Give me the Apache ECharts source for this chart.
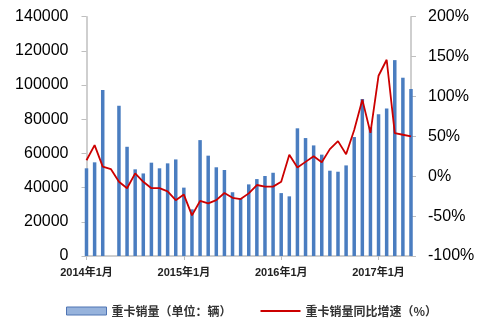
<!DOCTYPE html>
<html>
<head>
<meta charset="utf-8">
<script src="https://cdn.jsdelivr.net/npm/echarts@6/dist/echarts.min.js"></script>
<style>
html,body{margin:0;padding:0;background:#fff;}
#c{width:479px;height:323px;}
</style>
</head>
<body>
<div id="c"></div>
<script>
var categories = [
 "2014年1月","2014年2月","2014年3月","2014年4月","2014年5月","2014年6月","2014年7月","2014年8月","2014年9月","2014年10月","2014年11月","2014年12月",
 "2015年1月","2015年2月","2015年3月","2015年4月","2015年5月","2015年6月","2015年7月","2015年8月","2015年9月","2015年10月","2015年11月","2015年12月",
 "2016年1月","2016年2月","2016年3月","2016年4月","2016年5月","2016年6月","2016年7月","2016年8月","2016年9月","2016年10月","2016年11月","2016年12月",
 "2017年1月","2017年2月","2017年3月","2017年4月","2017年5月"
];
var salesName = "重卡销量（单位：辆）";
var growthName = "重卡销量同比增速（%）";
var sales = [
 51300,54800,97100,null,87900,63900,50700,48300,54600,51300,54200,56500,
 40000,27300,67800,58700,51900,50300,37300,33700,41900,45000,46800,48700,
 36800,34900,74700,69000,64700,59300,49900,49300,53000,69600,91800,75300,
 83000,86300,114600,104300,97700
];
var growth = [
 20,39,12,9,-7,-15,3.6,-7,-15,-15,-19,-30,
 -23,-49,-31,-34,-30,-21,-27,-28.6,-21.5,-11,-13,-13,
 -7,27,11,18,25,17.5,34,44,27.5,58,96,54.5,
 126,146,54,52,50
];
var leftTicks = {min:0, max:140000, interval:20000};
var rightTicks = {min:-100, max:200, interval:50};

var chart = echarts.init(document.getElementById('c'));
var font = "'Liberation Sans','Noto Sans CJK SC',sans-serif";
var axisGray = '#bfbfbf';
chart.setOption({
  animation:false,
  grid:{left:86.5, right:68, top:16.7, bottom:67},
  legend:{
    left:61, top:300, itemWidth:40, itemHeight:8, itemGap:29, symbolKeepAspect:true,
    textStyle:{fontFamily:"'Noto Sans CJK SC',sans-serif", fontSize:12, fontWeight:'bold', color:'#333'},
    data:[
      {name:salesName, icon:'rect', itemStyle:{color:'#97b3dc', borderColor:'#4f74b3', borderWidth:1}},
      {name:growthName, icon:'path://M0,0H40V2H0Z', itemStyle:{color:'#cc0000', borderWidth:0}}
    ]
  },
  xAxis:{
    type:'category', data:categories, boundaryGap:false,
    axisLine:{lineStyle:{color:axisGray, width:1.5}},
    axisTick:{show:true, length:4, lineStyle:{color:axisGray}, interval:function(i){return i%12===0;}},
    axisLabel:{interval:function(i){return i%12===0;}, fontFamily:font, fontSize:11, fontWeight:'bold', color:'#222', margin:11}
  },
  yAxis:[
    {type:'value', min:leftTicks.min, max:leftTicks.max, interval:leftTicks.interval,
     splitLine:{show:false},
     axisLine:{show:true, lineStyle:{color:axisGray, width:1.5}},
     axisTick:{show:true, length:5, lineStyle:{color:axisGray}},
     axisLabel:{fontFamily:font, fontSize:16, color:'#000', margin:18, formatter:function(v){return String(v);}}},
    {type:'value', min:rightTicks.min, max:rightTicks.max, interval:rightTicks.interval,
     splitLine:{show:false},
     axisLine:{show:true, lineStyle:{color:axisGray, width:1.5}},
     axisTick:{show:true, length:5, lineStyle:{color:axisGray}},
     axisLabel:{fontFamily:font, fontSize:16, color:'#000', margin:17, formatter:'{value}%'}}
  ],
  series:[
    {name:salesName, type:'bar', data:sales, barWidth:3.5, yAxisIndex:0,
     itemStyle:{color:'#4a7dc0'}, z:2},
    {name:growthName, type:'line', data:growth, yAxisIndex:1, symbol:'none',
     lineStyle:{color:'#cc0000', width:1.8}, itemStyle:{color:'#cc0000'}, z:3}
  ]
});
</script>
</body>
</html>
